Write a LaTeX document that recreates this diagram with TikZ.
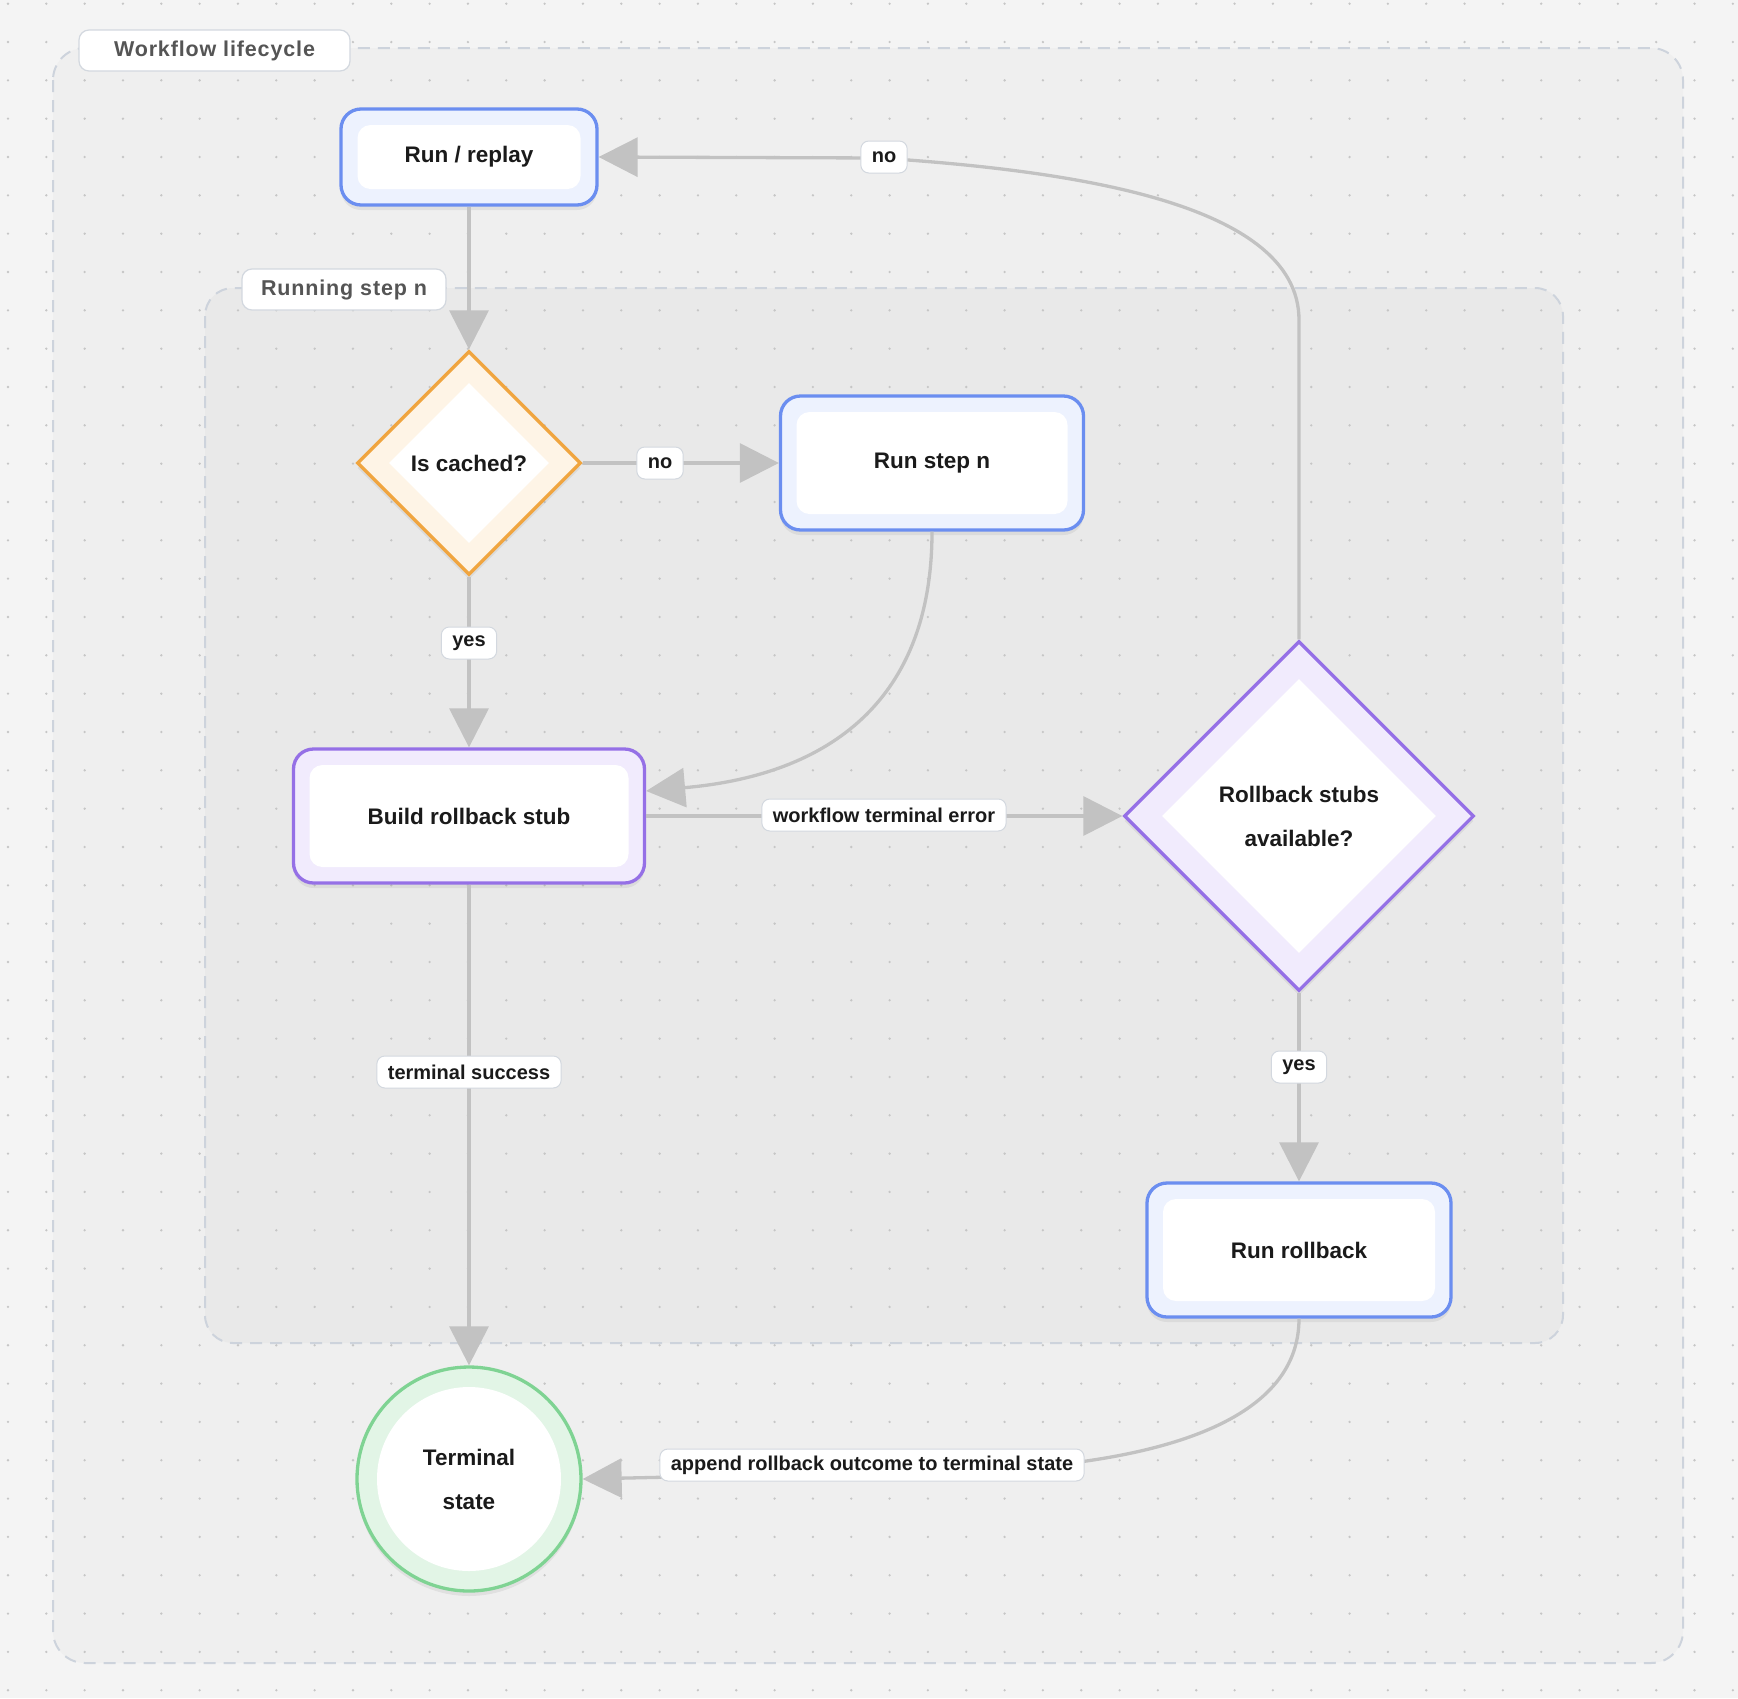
\documentclass[tikz,border=0pt]{standalone}
\usepackage{fontspec}
\setmainfont{Liberation Sans}
\newfontfamily\lblfont[LetterSpace=4]{Liberation Sans}
\usetikzlibrary{shapes.geometric,arrows.meta,shadows}
\definecolor{bgc}{HTML}{F4F4F4}
\definecolor{outerc}{HTML}{EFEFEF}
\definecolor{innerc}{HTML}{E9E9E9}
\definecolor{dashc}{HTML}{CDD3DC}
\definecolor{dotc}{HTML}{C6C6C6}
\definecolor{edgec}{HTML}{C2C2C2}
\definecolor{blueb}{HTML}{6B8EF0}
\definecolor{bluef}{HTML}{EDF2FE}
\definecolor{purb}{HTML}{9570E6}
\definecolor{purf}{HTML}{F1EBFD}
\definecolor{orab}{HTML}{F0A540}
\definecolor{oraf}{HTML}{FEF4E6}
\definecolor{greb}{HTML}{7FD393}
\definecolor{gref}{HTML}{E2F5E6}
\definecolor{txtc}{HTML}{1A1A1A}
\definecolor{lblc}{HTML}{555555}
\definecolor{lbld}{HTML}{D3D8DF}
\tikzset{
  shad/.style={drop shadow={shadow xshift=0pt, shadow yshift=-5pt, opacity=0.06, fill=black}},
  rbox/.style={rectangle, rounded corners=20pt, line width=3.3pt, inner sep=0pt, shad},
  rinner/.style={rectangle, rounded corners=13pt, fill=white, inner sep=0pt,
    font=\fontsize{22.5}{27}\selectfont\bfseries, text=txtc},
  dbox/.style={diamond, aspect=1, line width=3.3pt, inner sep=0pt, shad},
  dinner/.style={diamond, aspect=1, fill=white, inner sep=0pt, align=center,
    font=\fontsize{22.5}{44}\selectfont\bfseries, text=txtc},
  cbox/.style={circle, line width=3.3pt, inner sep=0pt, shad},
  cinner/.style={circle, fill=white, inner sep=0pt, align=center,
    font=\fontsize{22.5}{44}\selectfont\bfseries, text=txtc},
  flow/.style={draw=edgec, line width=3.3pt, -{Triangle[length=39pt,width=39pt]}},
  elabel/.style={rectangle, fill=white, draw=lbld, line width=1pt, rounded corners=8pt,
    minimum height=32pt, inner xsep=11pt, inner ysep=0pt,
    font=\fontsize{20}{23}\selectfont\bfseries, text=txtc},
  glabel/.style={rectangle, fill=white, draw=lbld, line width=1.2pt, rounded corners=10pt,
    minimum height=41pt, inner sep=0pt, font=\lblfont\fontsize{21.5}{24}\selectfont\bfseries, text=lblc},
  contain/.style={draw=dashc, line width=2pt, dash pattern=on 12pt off 8pt},
}
\begin{document}
\begin{tikzpicture}[x=1pt,y=-1pt]
\useasboundingbox (0,0) rectangle (1738,1698);
\fill[bgc] (0,0) rectangle (1738,1698);
% container fills
\fill[outerc, rounded corners=32pt] (53,48) rectangle (1683,1663);
\fill[innerc, rounded corners=28pt] (205,288) rectangle (1563,1343);
% dot grid
\foreach \i in {0,...,45} {
  \foreach \j in {0,...,44} {
    \fill[dotc] ({8+38.33*\i},{3.7+38.33*\j}) circle (1.3pt);
  }
}
% container borders
\draw[contain, rounded corners=32pt] (53,48) rectangle (1683,1663);
\draw[contain, rounded corners=28pt] (205,288) rectangle (1563,1343);
\node[glabel, minimum width=271pt] (wfl) at (214.5,50.5) {Workflow lifecycle};
\node[glabel, minimum width=204pt] (rsn) at (344,289.5) {Running step n};

% nodes
\node[rbox, draw=blueb, fill=bluef, minimum width=256pt, minimum height=96pt] (run) at (469,157) {};
\node[rinner, minimum width=223pt, minimum height=64pt] (runin) at (run) {Run / replay};

\node[dbox, draw=orab, fill=oraf, minimum width=224pt, minimum height=224pt] (ic) at (469,463) {};
\node[dinner, minimum width=160pt, minimum height=160pt] (icin) at (ic) {Is cached?};

\node[rbox, draw=blueb, fill=bluef, minimum width=303pt, minimum height=134pt] (rs) at (932,463) {};
\node[rinner, minimum width=271pt, minimum height=102pt] (rsin) at (rs) {Run step n};

\node[rbox, draw=purb, fill=purf, minimum width=351pt, minimum height=134pt] (bld) at (469,816) {};
\node[rinner, minimum width=319pt, minimum height=102pt] (bldin) at (bld) {Build rollback stub};

\node[dbox, draw=purb, fill=purf, minimum width=350pt, minimum height=350pt] (rb) at (1299,816) {};
\node[dinner, minimum width=274pt, minimum height=274pt] (rbin) at (rb) {Rollback stubs\\available?};

\node[rbox, draw=blueb, fill=bluef, minimum width=304pt, minimum height=134pt] (rr) at (1299,1250) {};
\node[rinner, minimum width=272pt, minimum height=102pt] (rrin) at (rr) {Run rollback};

\node[cbox, draw=greb, fill=gref, minimum size=224pt] (ts) at (469,1479) {};
\node[cinner, minimum size=184pt] (tsin) at (ts) {Terminal\\state};

% connectors
\draw[flow] (run.south) -- (ic.north);
\draw[flow] (ic.east) -- (rs.west);
\draw[flow] (ic.south) -- (bld.north);
\draw[flow] (rs.south) .. controls (932,700) and (830,775) .. ([yshift=25pt]bld.east);
\draw[flow] (bld.east) -- (rb.west);
\draw[flow] (bld.south) -- (ts.north);
\draw[flow] (rb.north) -- (1299,320) .. controls (1299,200) and (1060,170) .. (880,158) -- (run.east);
\draw[flow] (rb.south) -- (rr.north);
\draw[flow] (rr.south) .. controls (1299,1425) and (1150,1462) .. (990,1470) -- (ts.east);

% edge labels
\node[elabel] (lno1) at (884,157) {no};
\node[elabel] (lno2) at (660,463) {no};
\node[elabel] (lyes1) at (469,643) {yes};
\node[elabel] (lwte) at (884,815) {workflow terminal error};
\node[elabel] (lts) at (469,1072) {terminal success};
\node[elabel] (lyes2) at (1299,1067) {yes};
\node[elabel] (lapp) at (872,1465) {append rollback outcome to terminal state};
\end{tikzpicture}
\end{document}
